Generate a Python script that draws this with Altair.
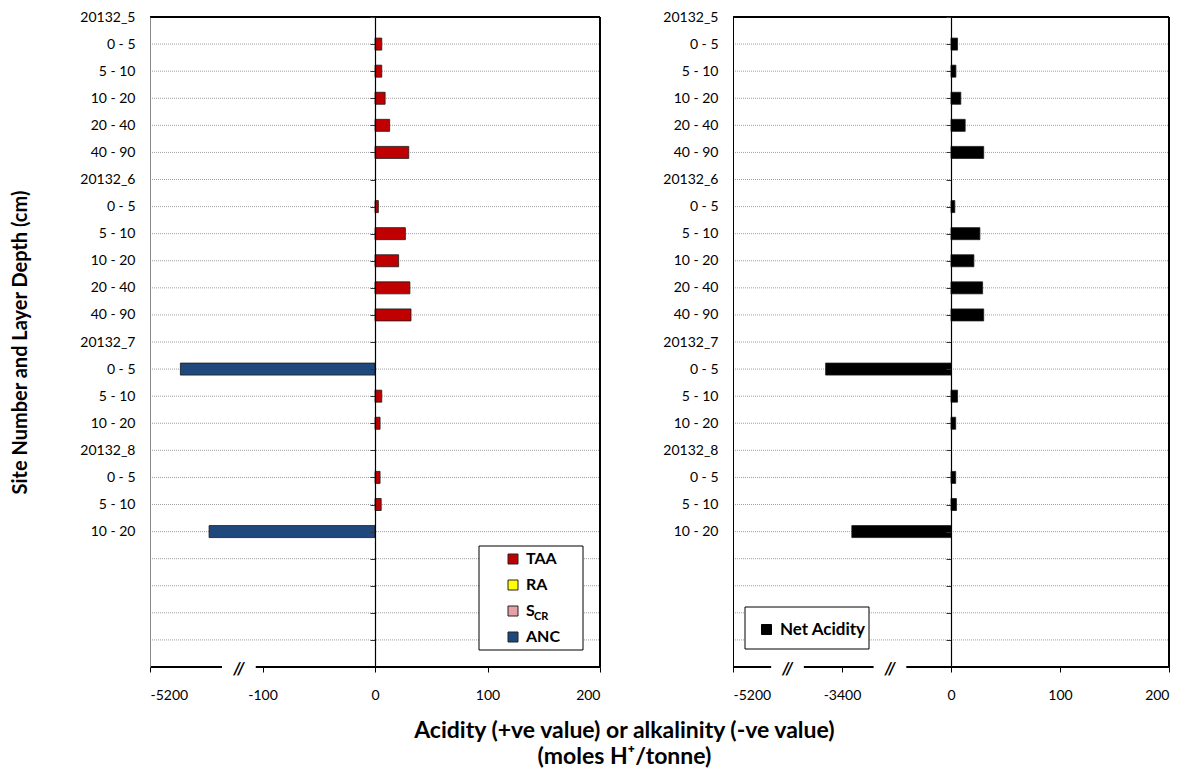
import altair as alt
import pandas as pd

FONT = "Lato"

rows = ["20132_5", "0 - 5", "5 - 10", "10 - 20", "20 - 40", "40 - 90",
        "20132_6", "0 - 5", "5 - 10", "10 - 20", "20 - 40", "40 - 90",
        "20132_7", "0 - 5", "5 - 10", "10 - 20",
        "20132_8", "0 - 5", "5 - 10", "10 - 20"]
n_slots = 24

taa = [None, 6, 6, 9, 13, 30, None, 3, 27, 21, 31, 32, None, 0, 6, 4.5, None, 4.5, 5.5, 0]
ra = [None] * 20
scr = [None] * 20
anc = [None, 0, 0, 0, 0, 0, None, 0, 0, 0, 0, 0, None, -173, 0, 0, None, 0, 0, -147.5]
net = [None, 6, 4.5, 9, 13, 30, None, 3.5, 26.5, 21, 29, 30, None, -115, 6, 4.3, None, 4.3, 5, -91]

series_names = ["TAA", "RA", "S_CR", "ANC"]
series_colors = ["#C00000", "#FFFF00", "#E6A0A8", "#1F497D"]
net_name = ["Net Acidity"]
net_color = ["#000000"]

x_domain = [-200, 200]
x_ticks = [-200, -100, 0, 100, 200]
left_tick_labels = ["-5200", "-100", "0", "100", "200"]
right_tick_labels = ["-5200", "-3400", "0", "100", "200"]
left_breaks = [-121]
right_breaks = [-150, -56]
break_half = 15

# ---------- data tables ----------
def long_table(series_lists, names):
    recs = []
    for name, vals in zip(names, series_lists):
        for i, v in enumerate(vals):
            if v is not None and v != 0:
                recs.append({"row": i, "series": name, "value": v, "zero": 0})
    return pd.DataFrame(recs)

left_df = long_table([taa, ra, scr, anc], series_names)
right_df = long_table([net], net_name)
slots_df = pd.DataFrame({"row": list(range(n_slots))})
grid_df = pd.DataFrame({"row": list(range(1, n_slots)),
                        "gx1": [x_domain[0]] * (n_slots - 1), "gx2": [x_domain[1]] * (n_slots - 1)})
base_df = pd.DataFrame({"x1": [x_domain[0]], "x2": [x_domain[1]], "y": [n_slots]})
top_df = pd.DataFrame({"x1": [x_domain[0]], "x2": [x_domain[1]], "y": [0]})
right_edge_df = pd.DataFrame({"x": [x_domain[1]], "y1": [0], "y2": [n_slots]})


def label_expr_x(labels):
    expr = "''"
    for t, l in reversed(list(zip(x_ticks, labels))):
        expr = f"datum.value == {t} ? '{l}' : ({expr})"
    return expr

rows_js = "[" + ",".join(f"'{r}'" for r in rows) + "]"
y_label_expr = f"datum.value < {len(rows)} ? {rows_js}[datum.value] : ''"

y_scale = alt.Scale(domain=[0, n_slots], reverse=True, nice=False, zero=False, padding=0)
x_scale = alt.Scale(domain=x_domain, nice=False, zero=False, padding=0)


def x_axis(labels):
    return alt.Axis(values=x_ticks, labelExpr=label_expr_x(labels), title=None,
                    grid=False, domain=False, tickSize=5, tickColor="black", tickWidth=1,
                    labelPadding=16, labelFont=FONT, labelFontSize=14, labelColor="black",
                    orient="bottom")


def y_label_axis(title, domain_color):
    kw = dict(values=list(range(n_slots)), labelExpr=y_label_expr, ticks=False,
              labelPadding=15, grid=False, domainColor=domain_color, domainWidth=1,
              labelFont=FONT, labelFontSize=14, labelColor="black", orient="left", zindex=1)
    if title:
        kw.update(title=title, titleFont=FONT, titleFontSize=20, titleFontWeight="bold",
                  titleColor="black", titlePadding=49)
    else:
        kw.update(title=None)
    return alt.Axis(**kw)


def zero_axis(offset):
    return alt.Axis(values=list(range(n_slots)), labels=False, ticks=True, tickSize=5,
                    tickColor="#333333", domainColor="black", domainWidth=1.2, grid=False,
                    title=None, orient="left", offset=offset, zindex=1)


def panel(df, names, colors, labels, breaks, width, title, domain_color, legend, box):
    xa = x_axis(labels)
    grid = alt.Chart(grid_df).mark_rule(color="#a0a0a0", strokeDash=[1, 1], strokeWidth=1).encode(
        x=alt.X("gx1:Q", scale=x_scale, axis=xa), x2="gx2:Q",
        y=alt.Y("row:Q", scale=y_scale, axis=None),
    )
    top = alt.Chart(top_df).mark_rule(color="black", strokeWidth=2).encode(
        x=alt.X("x1:Q", scale=x_scale, axis=xa), x2="x2:Q",
        y=alt.Y("y:Q", scale=y_scale, axis=None),
    )
    redge = alt.Chart(right_edge_df).mark_rule(color="black", strokeWidth=2).encode(
        x=alt.X("x:Q", scale=x_scale, axis=xa),
        y=alt.Y("y1:Q", scale=y_scale, axis=None), y2="y2:Q",
    )
    boxdf = pd.DataFrame({"t": ["box"]})
    legend_box = alt.Chart(boxdf).mark_rect(fill="white", stroke="black", strokeWidth=1).encode(
        x=alt.value(box[0]), x2=alt.value(box[1]), y=alt.value(box[2]), y2=alt.value(box[3]))
    bars = alt.Chart(df).mark_bar(size=12, stroke="#1a1a1a", strokeWidth=0.8).encode(
        x=alt.X("value:Q", scale=x_scale, axis=xa),
        x2="zero:Q",
        y=alt.Y("row:Q", scale=y_scale, axis=y_label_axis(title, domain_color)),
        color=alt.Color("series:N", scale=alt.Scale(domain=names, range=colors), legend=legend),
    )
    zero = alt.Chart(slots_df).mark_point(opacity=0).encode(
        y=alt.Y("row:Q", scale=y_scale, axis=zero_axis(-width / 2)),
    )
    base = alt.Chart(base_df).mark_rule(color="black", strokeWidth=2).encode(
        x=alt.X("x1:Q", scale=x_scale, axis=xa), x2="x2:Q",
        y=alt.Y("y:Q", scale=y_scale, axis=None),
    )
    bdf = pd.DataFrame({"b": breaks, "b1": [b - break_half for b in breaks],
                        "b2": [b + break_half for b in breaks],
                        "y1": [n_slots - 0.2] * len(breaks), "y2": [n_slots + 0.2] * len(breaks),
                        "ym": [n_slots] * len(breaks)})
    gap = alt.Chart(bdf).mark_rect(fill="white").encode(
        x=alt.X("b1:Q", scale=x_scale, axis=xa), x2="b2:Q",
        y=alt.Y("y1:Q", scale=y_scale, axis=None), y2="y2:Q",
    )
    slash = alt.Chart(bdf).mark_text(text="//", font=FONT, fontSize=17, fontWeight="bold",
                                     fontStyle="italic", color="black", dy=2).encode(
        x=alt.X("b:Q", scale=x_scale, axis=xa),
        y=alt.Y("ym:Q", scale=y_scale, axis=None),
    )
    return [grid, top, redge, legend_box, bars, zero, base, gap, slash]


left_legend = alt.Legend(title=None, orient="none", legendX=355, legendY=534, padding=0,
                         symbolType="square", symbolSize=100, symbolStrokeColor="#222222",
                         symbolStrokeWidth=1, labelFont=FONT, labelFontSize=16,
                         labelFontWeight="bold", labelColor="black", rowPadding=10,
                         labelOffset=5,
                         labelExpr="datum.label == 'S_CR' ? 'S' : datum.label")
right_legend = alt.Legend(title=None, orient="none", legendX=25, legendY=604, padding=0,
                          symbolType="square", symbolSize=100, symbolStrokeColor="black",
                          symbolStrokeWidth=1, labelFont=FONT, labelFontSize=17,
                          labelFontWeight="bold", labelColor="black", labelOffset=5)

left_layers = panel(left_df, series_names, series_colors, left_tick_labels, left_breaks,
                    450, "Site Number and Layer Depth (cm)", "#888888", left_legend,
                    [329, 433, 529, 633])
sub = alt.Chart(pd.DataFrame({"t": ["CR"]})).mark_text(
    font=FONT, fontSize=11, fontWeight="bold", color="black", align="left",
    baseline="middle").encode(text="t:N", x=alt.value(384), y=alt.value(600))
left = alt.layer(*left_layers, sub).resolve_axis(y="independent").properties(width=450, height=650)

right_layers = panel(right_df, net_name, net_color, right_tick_labels, right_breaks,
                     436, None, "black", right_legend, [12, 136, 590, 632])
right = alt.layer(*right_layers).resolve_axis(y="independent").properties(width=436, height=650)

chart = alt.hconcat(left, right, spacing=60).resolve_scale(color="independent").properties(
    title=alt.TitleParams(
        text=["Acidity (+ve value) or alkalinity (-ve value)", "(moles H\u207a/tonne)"],
        orient="bottom", anchor="middle", font=FONT, fontSize=23, fontWeight="bold",
        color="black", offset=17, dx=34, lineHeight=26),
    padding={"left": 2, "top": 1, "right": 0, "bottom": 5},
).configure_view(stroke="black", strokeWidth=1)

chart.save("out.html", embed_options={"renderer": "svg", "actions": False})
